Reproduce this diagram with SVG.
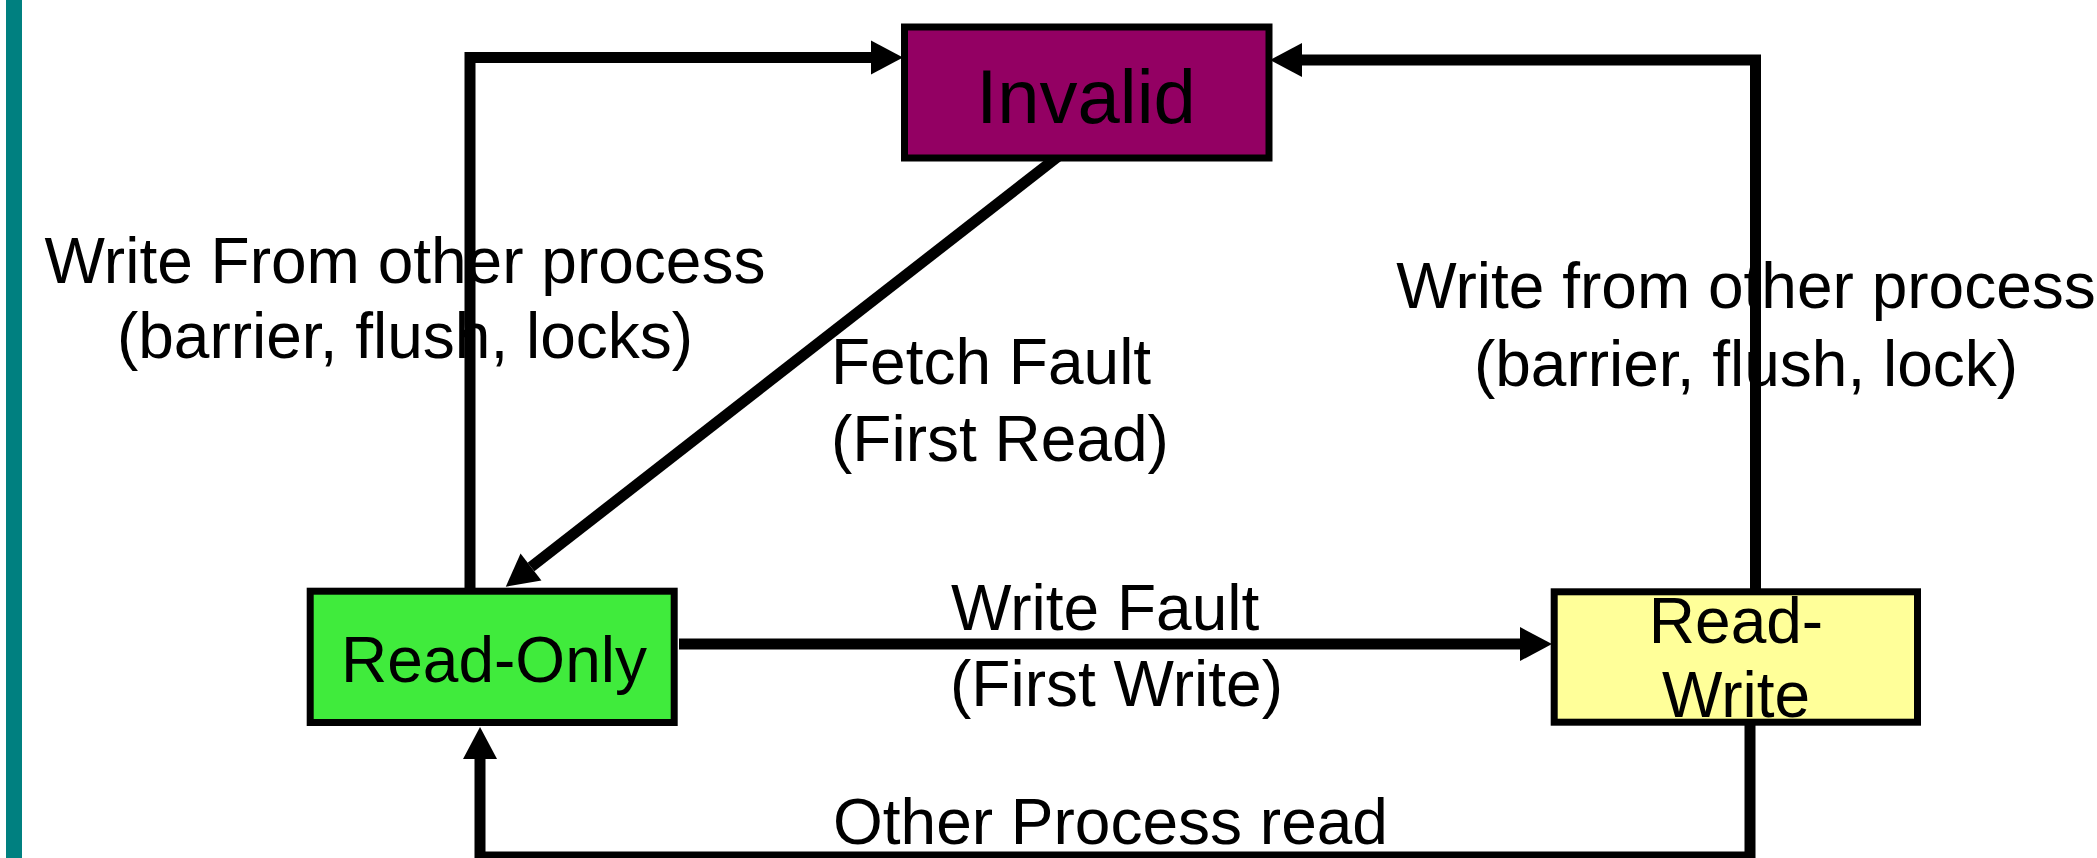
<svg xmlns="http://www.w3.org/2000/svg" width="2097" height="858" viewBox="0 0 2097 858">
  <style>
    .node { stroke: #000; stroke-width: 7; }
    .lbl { font-family: "Liberation Sans", Arial, sans-serif; font-size: 64px; fill: #000; }
    .mid { text-anchor: middle; }
    .edge { fill: none; stroke: #000; stroke-width: 11; stroke-linejoin: miter; stroke-linecap: butt; }
  </style>
  <defs>
    <!-- solid triangular head; its base sits on the end of the line -->
    <marker id="head" markerUnits="userSpaceOnUse" markerWidth="32" markerHeight="34" refX="0" refY="17" orient="auto" overflow="visible">
      <path d="M0,0 L32,17 L0,34 Z" fill="#000"/>
    </marker>
  </defs>

  <rect width="2097" height="858" fill="#fff"/>
  <!-- side accent bar -->
  <rect x="6" y="0" width="16" height="858" fill="#008080"/>

  <g id="connectors">
    <!-- Read-Only up to Invalid -->
    <path class="edge" d="M470,590 V57.5 H871" marker-end="url(#head)"/>
    <!-- Read-Write up to Invalid -->
    <path class="edge" d="M1755.5,590 V60 H1302" marker-end="url(#head)"/>
    <!-- Invalid down to Read-Only -->
    <path class="edge" d="M1060,155 L531,567" marker-end="url(#head)"/>
    <!-- Read-Only across to Read-Write -->
    <path class="edge" d="M679,644 H1520" marker-end="url(#head)"/>
    <!-- Read-Write back round the bottom to Read-Only -->
    <path class="edge" d="M1750,720 V857 H480 V759" marker-end="url(#head)"/>
  </g>

  <g id="label-write-from-other-left">
    <text class="lbl mid" x="405" y="283">Write From other process</text>
    <text class="lbl mid" x="405" y="358">(barrier, flush, locks)</text>
  </g>
  <g id="label-fetch-fault">
    <text class="lbl" x="831" y="384">Fetch Fault</text>
    <text class="lbl" x="831" y="461">(First Read)</text>
  </g>
  <g id="label-write-from-other-right">
    <text class="lbl mid" x="1746" y="308">Write from other process</text>
    <text class="lbl mid" x="1746" y="386">(barrier, flush, lock)</text>
  </g>
  <g id="label-write-fault">
    <text class="lbl" x="951" y="630">Write Fault</text>
    <text class="lbl" x="950" y="706">(First Write)</text>
  </g>
  <g id="label-other-read">
    <text class="lbl" x="833" y="844">Other Process read</text>
  </g>

  <g id="node-invalid">
    <rect class="node" x="904.5" y="27" width="364.5" height="131" fill="#930063"/>
    <text class="lbl mid" x="1086" y="123" style="font-size:76px">Invalid</text>
  </g>
  <g id="node-read-only">
    <rect class="node" x="310.2" y="591.2" width="364" height="131.3" fill="#40EB3C"/>
    <text class="lbl mid" x="494" y="682">Read-Only</text>
  </g>
  <g id="node-read-write">
    <rect class="node" x="1554.2" y="591.8" width="363.3" height="130.4" fill="#FFFF99"/>
    <text class="lbl mid" x="1736" y="643">Read-</text>
    <text class="lbl mid" x="1736" y="717">Write</text>
  </g>
</svg>
